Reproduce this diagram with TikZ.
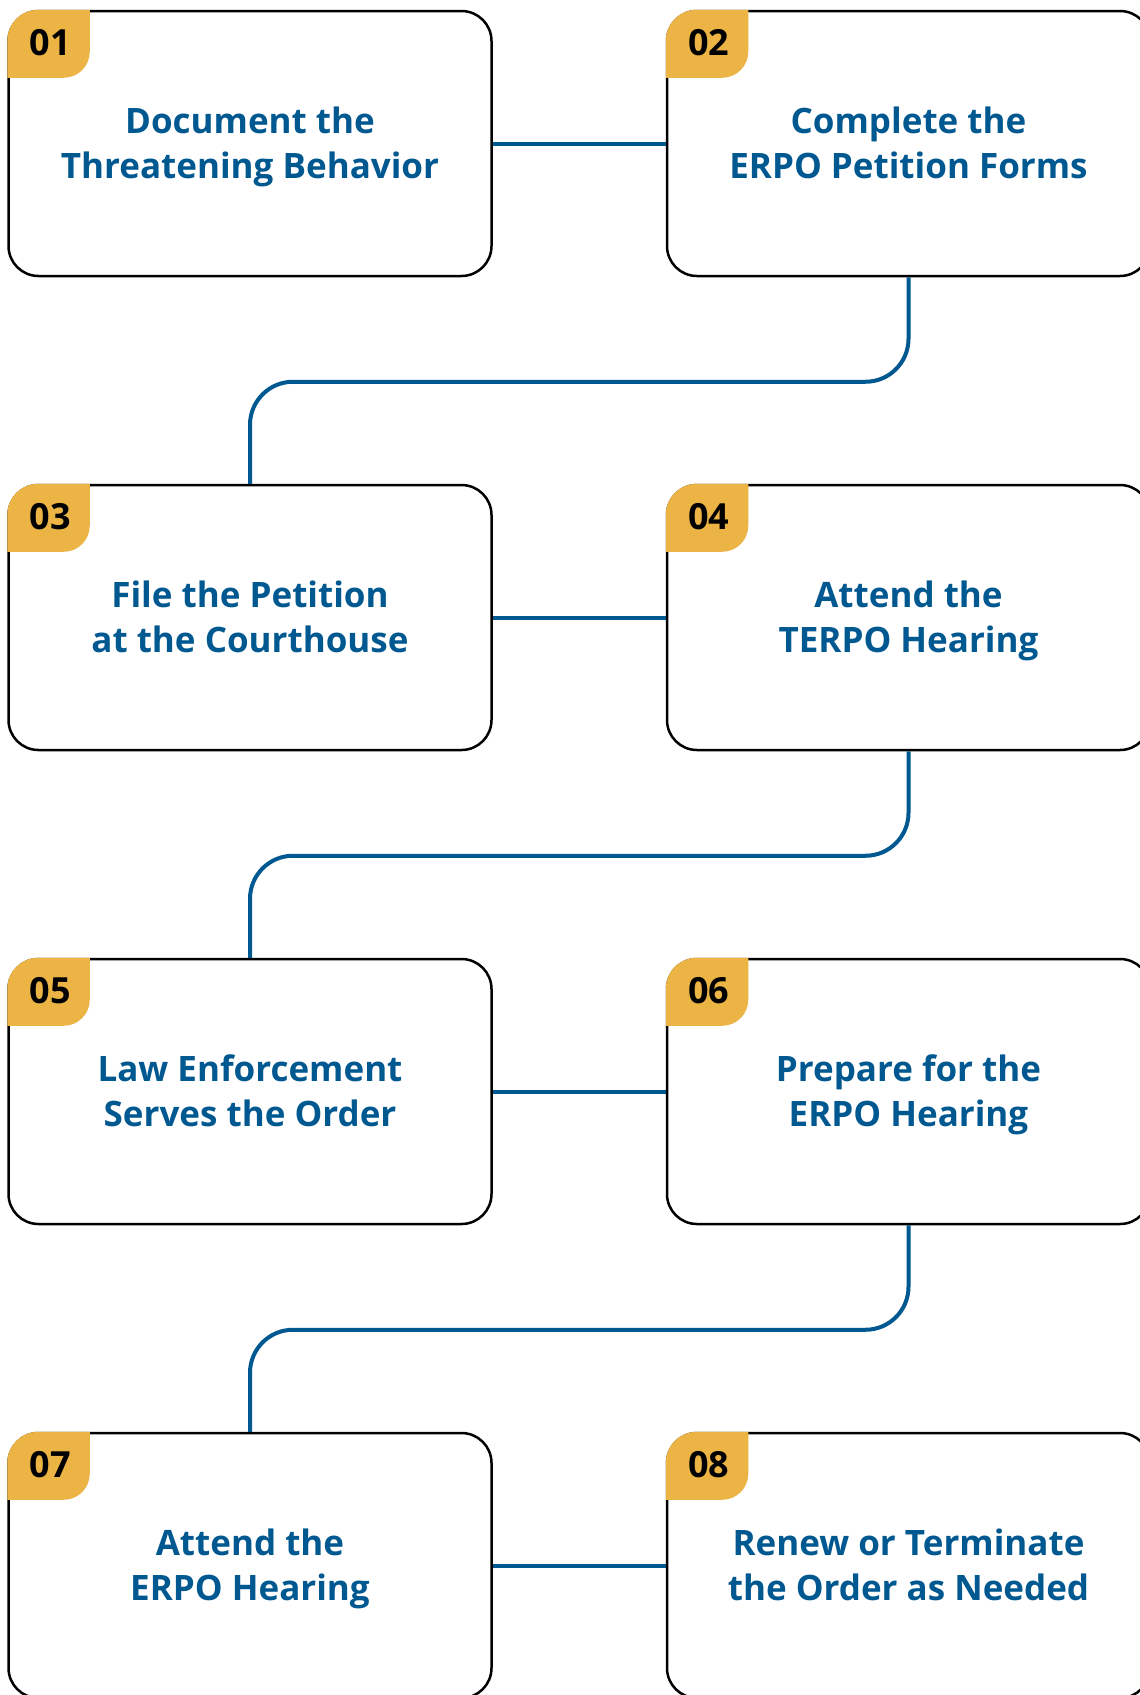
\documentclass[tikz,border=0pt]{standalone}
\usepackage{fontspec}
\setmainfont{Open Sans}
\usetikzlibrary{calc}
\usepackage{xcolor}
\definecolor{stepblue}{RGB}{0,88,145}
\definecolor{badgegold}{RGB}{235,180,68}

\begin{document}
\begin{tikzpicture}[x=1pt, y=-1pt,
    stepbox/.style={
        rectangle,
        rounded corners=30pt,
        draw=black,
        line width=2.5pt,
        fill=white,
        minimum width=483pt,
        minimum height=265pt,
        align=center,
        text=stepblue,
        font=\fontsize{35}{45}\selectfont\bfseries,
        text height=70pt,
        text depth=0pt
    },
    badge/.style={
        inner sep=0pt,
        text=black,
        font=\fontsize{36}{42}\selectfont\bfseries
    },
    link/.style={stepblue, line width=4pt}
]

    \useasboundingbox (0,0) rectangle (1140,1695);
    \clip (0,0) rectangle (1140,1695);



    \node (document_behavior) [stepbox, shift={(250, 143.5)}]
    {
        Document the\\Threatening Behavior
    };

    \node (complete_forms) [stepbox, shift={(908.5, 143.5)}]
    {
        Complete the\\ERPO Petition Forms
    };

    \node (file_petition) [stepbox, shift={(250, 617.5)}]
    {
        File the Petition\\at the Courthouse
    };

    \node (attend_terpo) [stepbox, shift={(908.5, 617.5)}]
    {
        Attend the\\TERPO Hearing
    };

    \node (serve_order) [stepbox, shift={(250, 1091.5)}]
    {
        Law Enforcement\\Serves the Order
    };

    \node (prepare_erpo) [stepbox, shift={(908.5, 1091.5)}]
    {
        Prepare for the\\ERPO Hearing
    };

    \node (attend_erpo) [stepbox, shift={(250, 1565.5)}]
    {
        Attend the\\ERPO Hearing
    };

    \node (renew_order) [stepbox, shift={(908.5, 1565.5)}]
    {
        Renew or Terminate\\the Order as Needed
    };



    % number tabs in the top left corners
    \fill[badgegold] ($(document_behavior.north west)+(0,68)$) [rounded corners=31pt] -- (document_behavior.north west) [sharp corners] -- ++(82.5,0) [rounded corners=26pt] -- ++(0,68) [sharp corners] -- cycle;
    \fill[badgegold] ($(complete_forms.north west)+(0,68)$) [rounded corners=31pt] -- (complete_forms.north west) [sharp corners] -- ++(82.5,0) [rounded corners=26pt] -- ++(0,68) [sharp corners] -- cycle;
    \fill[badgegold] ($(file_petition.north west)+(0,68)$) [rounded corners=31pt] -- (file_petition.north west) [sharp corners] -- ++(82.5,0) [rounded corners=26pt] -- ++(0,68) [sharp corners] -- cycle;
    \fill[badgegold] ($(attend_terpo.north west)+(0,68)$) [rounded corners=31pt] -- (attend_terpo.north west) [sharp corners] -- ++(82.5,0) [rounded corners=26pt] -- ++(0,68) [sharp corners] -- cycle;
    \fill[badgegold] ($(serve_order.north west)+(0,68)$) [rounded corners=31pt] -- (serve_order.north west) [sharp corners] -- ++(82.5,0) [rounded corners=26pt] -- ++(0,68) [sharp corners] -- cycle;
    \fill[badgegold] ($(prepare_erpo.north west)+(0,68)$) [rounded corners=31pt] -- (prepare_erpo.north west) [sharp corners] -- ++(82.5,0) [rounded corners=26pt] -- ++(0,68) [sharp corners] -- cycle;
    \fill[badgegold] ($(attend_erpo.north west)+(0,68)$) [rounded corners=31pt] -- (attend_erpo.north west) [sharp corners] -- ++(82.5,0) [rounded corners=26pt] -- ++(0,68) [sharp corners] -- cycle;
    \fill[badgegold] ($(renew_order.north west)+(0,68)$) [rounded corners=31pt] -- (renew_order.north west) [sharp corners] -- ++(82.5,0) [rounded corners=26pt] -- ++(0,68) [sharp corners] -- cycle;

    \node (badge_01) [badge] at ($(document_behavior.north west)+(43,33)$) {01};
    \node (badge_02) [badge] at ($(complete_forms.north west)+(43,33)$) {02};
    \node (badge_03) [badge] at ($(file_petition.north west)+(43,33)$) {03};
    \node (badge_04) [badge] at ($(attend_terpo.north west)+(43,33)$) {04};
    \node (badge_05) [badge] at ($(serve_order.north west)+(43,33)$) {05};
    \node (badge_06) [badge] at ($(prepare_erpo.north west)+(43,33)$) {06};
    \node (badge_07) [badge] at ($(attend_erpo.north west)+(43,33)$) {07};
    \node (badge_08) [badge] at ($(renew_order.north west)+(43,33)$) {08};



    \draw[link] (document_behavior) to (complete_forms);
    \draw[link, rounded corners=43pt] (complete_forms.south) -- ++(0,104.5) -| (file_petition.north);
    \draw[link] (file_petition) to (attend_terpo);
    \draw[link, rounded corners=43pt] (attend_terpo.south) -- ++(0,104.5) -| (serve_order.north);
    \draw[link] (serve_order) to (prepare_erpo);
    \draw[link, rounded corners=43pt] (prepare_erpo.south) -- ++(0,104.5) -| (attend_erpo.north);
    \draw[link] (attend_erpo) to (renew_order);


\end{tikzpicture}
\end{document}
